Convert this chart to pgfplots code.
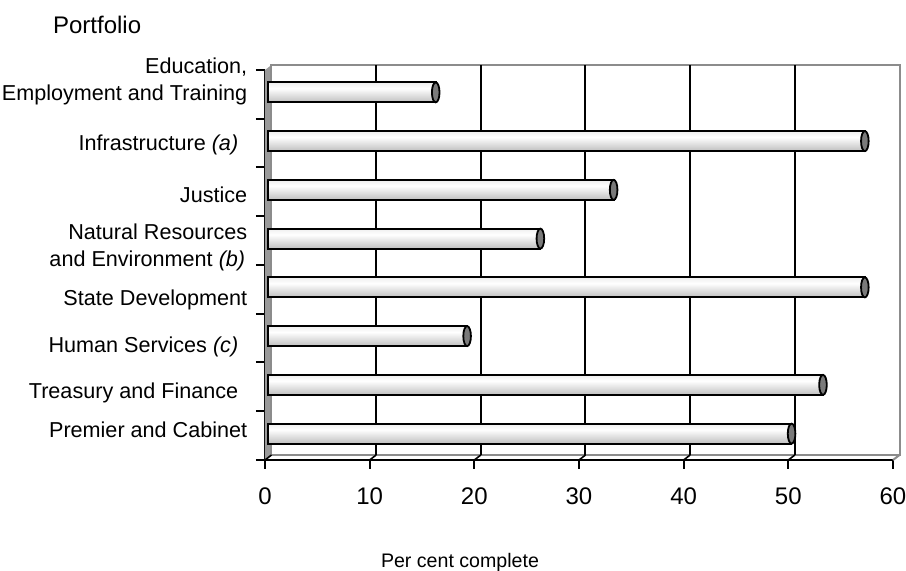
\documentclass[border=0pt]{standalone}
\usepackage{pgfplots}
\pgfplotsset{compat=1.18}
\usepackage{fontspec}
\setmainfont{Liberation Sans}

\definecolor{wallgray}{HTML}{8C8C8C}
\definecolor{sidegray}{HTML}{9A9A9A}
\definecolor{capgray}{HTML}{7A7A7A}

% vertical light/dark gradient giving the bars a tube look (0bp = bottom)
\pgfdeclareverticalshading{cyl}{100bp}{%
  color(0bp)=(gray!85); color(25bp)=(gray!50); color(60bp)=(white);
  color(85bp)=(gray!22); color(100bp)=(gray!40)}

% elliptical end cap of a tube
\pgfdeclareplotmark{cap}{%
  \pgfpathellipse{\pgfpointorigin}{\pgfqpoint{1.9pt}{0pt}}{\pgfqpoint{0pt}{5pt}}%
  \pgfusepathqfillstroke}

% depth of the back wall
\def\dx{3.25pt}
\def\dy{2.5pt}

\pgfplotsset{
  tube/.style={xbar, bar width=10pt, draw=black, line width=0.9pt,
    shade, shading=cyl, xshift=1.625pt, yshift=1pt},
}

\begin{document}
\begin{tikzpicture}
\path[use as bounding box] (0,0) rectangle (453pt,285.5pt);
\begin{axis}[
  at={(132.5pt,55.5pt)}, anchor=south west,
  scale only axis, width=314pt, height=195pt,
  xmin=0, xmax=60, ymin=-0.5, ymax=7.5,
  clip=false,
  axis lines*=left,
  axis line style={black, line width=1.2pt},
  tick align=outside,
  major tick length=4.5pt, minor tick length=4.5pt,
  tick style={black, line width=1pt},
  major y tick style={draw=none},
  xtick={0,10,...,60},
  minor ytick={-0.5,0.5,...,7.5},
  ytick={0.12,0.88,1.82,2.78,3.87,4.94,5.96,7.26},
  yticklabels={
    {Premier and Cabinet},
    {Treasury and Finance\hspace*{4.5pt}},
    {Human Services \textit{(c)}\hspace*{4.5pt}},
    {State Development},
    {Natural Resources\\and Environment \textit{(b)}\hspace*{1pt}},
    {Justice},
    {Infrastructure \textit{(a)}\hspace*{4.5pt}},
    {Education,\\Employment and Training}},
  yticklabel style={anchor=east, align=right, inner sep=0pt, xshift=-4.2pt,
    font=\fontsize{10.8}{13.5}\selectfont},
  xticklabel style={anchor=north, inner sep=0pt, yshift=-9pt,
    font=\fontsize{12}{14}\selectfont},
  /pgf/number format/assume math mode=true,
  xlabel={Per cent complete},
  xlabel style={at={(rel axis cs:0.3105,-0.2615)}, anchor=center,
    font=\fontsize{9.8}{12}\selectfont},
  ylabel={Portfolio},
  every axis y label/.style={at={(rel axis cs:-0.3487,1.1154)}, anchor=west,
    font=\fontsize{12}{14}\selectfont},
]
% side wall and back wall
\fill[sidegray] (axis cs:0,-0.5) -- (axis cs:0,7.5)
  -- ([shift={(\dx,\dy)}]axis cs:0,7.5) -- ([shift={(\dx,\dy)}]axis cs:0,-0.5) -- cycle;
\draw[wallgray, line width=1pt] ([shift={(\dx,\dy)}]axis cs:0,-0.5)
  rectangle ([shift={(\dx,\dy)}]axis cs:60,7.5);
\draw[wallgray, line width=1pt] (axis cs:60,-0.5) -- ([shift={(\dx,\dy)}]axis cs:60,-0.5);
\draw[black, line width=0.8pt] (axis cs:0,-0.5) -- ([shift={(\dx,\dy)}]axis cs:0,-0.5);
% gridlines on the back wall and floor
\pgfplotsinvokeforeach{10,20,30,40,50}{
  \draw[black, line width=1pt] ([shift={(\dx,\dy)}]axis cs:#1,-0.5)
    -- ([shift={(\dx,\dy)}]axis cs:#1,7.5);
  \draw[black, line width=0.8pt] (axis cs:#1,-0.5) -- ([shift={(\dx,\dy)}]axis cs:#1,-0.5);
}

% per cent complete, one tube per portfolio
\addplot[tube] coordinates {(50,0)};
\addplot[tube] coordinates {(53,1)};
\addplot[tube] coordinates {(19,2)};
\addplot[tube] coordinates {(57,3)};
\addplot[tube] coordinates {(26,4)};
\addplot[tube] coordinates {(33,5)};
\addplot[tube] coordinates {(57,6)};
\addplot[tube] coordinates {(16,7)};
% end caps
\addplot[only marks, mark=cap, xshift=1.625pt, yshift=1pt,
  mark options={draw=black, fill=capgray, line width=0.9pt}]
  coordinates {(50,0) (53,1) (19,2) (57,3) (26,4) (33,5) (57,6) (16,7)};
\end{axis}
\end{tikzpicture}
\end{document}
